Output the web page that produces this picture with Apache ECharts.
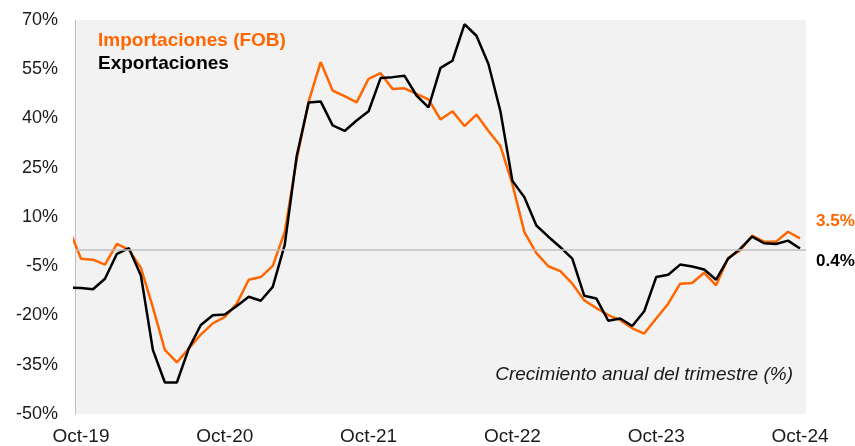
<!DOCTYPE html>
<html>
<head>
<meta charset="utf-8">
<script src="https://cdn.jsdelivr.net/npm/echarts@6/dist/echarts.min.js"></script>
<style>
html,body{margin:0;padding:0;background:#fff;}
#chart{width:855px;height:446px;}
</style>
</head>
<body>
<div id="chart"></div>
<script>
// Months Oct-19 .. Oct-24
const months = ['Oct-19','Nov-19','Dec-19','Jan-20','Feb-20','Mar-20','Apr-20','May-20','Jun-20','Jul-20','Aug-20','Sep-20',
  'Oct-20','Nov-20','Dec-20','Jan-21','Feb-21','Mar-21','Apr-21','May-21','Jun-21','Jul-21','Aug-21','Sep-21',
  'Oct-21','Nov-21','Dec-21','Jan-22','Feb-22','Mar-22','Apr-22','May-22','Jun-22','Jul-22','Aug-22','Sep-22',
  'Oct-22','Nov-22','Dec-22','Jan-23','Feb-23','Mar-23','Apr-23','May-23','Jun-23','Jul-23','Aug-23','Sep-23',
  'Oct-23','Nov-23','Dec-23','Jan-24','Feb-24','Mar-24','Apr-24','May-24','Jun-24','Jul-24','Aug-24','Sep-24',
  'Oct-24'];

// Value of the month before Oct-19 (only its segment into the plot is visible)
const leadMonth = 'Sep-19';
const importsLead = 6.4;
const exportsLead = -11.5;

const importaciones = [-2.7,-3.0,-4.5,1.8,0.0,-5.5,-17.5,-30.5,-34.3,-30.0,-25.8,-22.4,
  -20.4,-16.4,-9.1,-8.3,-4.9,5.4,27.6,45.2,57.2,48.5,46.8,44.9,
  52.1,53.8,49.0,49.2,47.5,45.8,39.7,42.2,37.7,41.2,36.2,31.6,
  20.0,5.4,-1.0,-5.0,-6.5,-10.3,-15.4,-17.7,-19.9,-21.4,-23.9,-25.5,
  -20.9,-16.4,-10.3,-10.1,-7.0,-10.8,-2.5,-0.2,4.3,2.5,2.5,5.5,
  3.5];

const exportaciones = [-11.6,-12.0,-8.8,-1.2,0.5,-7.8,-30.5,-40.4,-40.4,-30.0,-22.9,-19.9,
  -19.7,-17.1,-14.3,-15.5,-11.3,1.5,28.6,44.9,45.2,37.9,36.2,39.4,
  42.2,52.3,52.6,53.0,47.0,43.4,55.4,57.6,68.7,65.2,56.6,42.2,
  21.0,16.0,7.4,4.0,0.8,-2.7,-14.0,-14.8,-21.6,-20.9,-23.2,-18.7,
  -8.3,-7.6,-4.5,-5.1,-6.0,-9.1,-2.7,0.3,4.0,2.0,1.8,2.8,
  0.4];

const yTicks = {min: -50, max: 70, interval: 15};

const ORANGE = '#FF6600';
const BLACK = '#000000';
const FONT = '"Liberation Sans", Arial, sans-serif';

function toPairs(lead, arr) {
  return [[-1, lead]].concat(arr.map((v, i) => [i, v]));
}

const chart = echarts.init(document.getElementById('chart'), null, {renderer: 'canvas'});
chart.setOption({
  animation: false,
  backgroundColor: '#ffffff',
  grid: {left: 75, right: 49, top: 20, bottom: 30, show: true, backgroundColor: '#F2F2F2', borderWidth: 0},
  legend: {
    orient: 'vertical', left: 88, top: 26, icon: 'none', itemWidth: 0, itemHeight: 14, itemGap: 4,
    selectedMode: false,
    textStyle: {fontFamily: FONT, fontSize: 19, fontWeight: 'bold', lineHeight: 19},
    data: [
      {name: 'Importaciones (FOB)', textStyle: {color: ORANGE}},
      {name: 'Exportaciones', textStyle: {color: BLACK}}
    ]
  },
  xAxis: [
    {
      type: 'category', data: months, boundaryGap: true,
      axisLine: {show: false}, axisTick: {show: false}, splitLine: {show: false},
      axisLabel: {interval: 11, margin: 13, color: '#1a1a1a', fontFamily: FONT, fontSize: 19}
    },
    {type: 'value', min: -0.5, max: months.length - 0.5, show: false}
  ],
  yAxis: {
    type: 'value', min: yTicks.min, max: yTicks.max, interval: yTicks.interval,
    position: 'left',
    axisLine: {show: true, onZero: false, lineStyle: {color: '#BFBFBF', width: 1}},
    axisTick: {show: false}, splitLine: {show: false},
    axisLabel: {formatter: v => v + '%', margin: 17, color: '#1a1a1a', fontFamily: FONT, fontSize: 18}
  },
  graphic: [{
    type: 'text', right: 62, top: 365, silent: true,
    style: {text: 'Crecimiento anual del trimestre (%)', fill: '#1a1a1a', font: 'italic 19px "Liberation Sans", Arial, sans-serif', textAlign: 'right'}
  }],
  series: [
    {
      name: 'Importaciones (FOB)', type: 'line', xAxisIndex: 1, clip: true,
      data: toPairs(importsLead, importaciones),
      showSymbol: false, symbol: 'none',
      lineStyle: {color: ORANGE, width: 2.5}, itemStyle: {color: ORANGE},
      endLabel: {show: true, formatter: p => p.value[1].toFixed(1) + '%', color: ORANGE,
        fontFamily: FONT, fontSize: 17, fontWeight: 'bold', offset: [8, -17]},
      markLine: {
        silent: true, symbol: 'none', label: {show: false},
        lineStyle: {color: '#BFBFBF', width: 1.5, type: 'solid'},
        data: [{yAxis: 0}]
      },
      z: 3
    },
    {
      name: 'Exportaciones', type: 'line', xAxisIndex: 1, clip: true,
      data: toPairs(exportsLead, exportaciones),
      showSymbol: false, symbol: 'none',
      lineStyle: {color: BLACK, width: 2.5}, itemStyle: {color: BLACK},
      endLabel: {show: true, formatter: p => p.value[1].toFixed(1) + '%', color: BLACK,
        fontFamily: FONT, fontSize: 17, fontWeight: 'bold', offset: [8, 13]},
      z: 4
    }
  ]
});
</script>
</body>
</html>
